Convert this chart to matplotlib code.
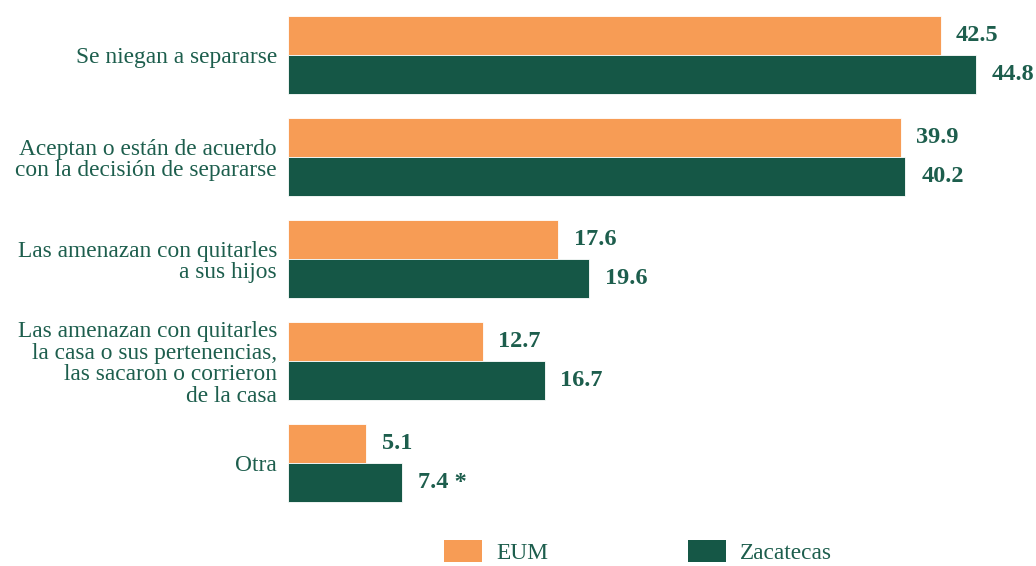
import matplotlib.pyplot as plt
import numpy as np
from matplotlib.patches import Patch

plt.rcParams['font.family'] = ['Liberation Serif', 'DejaVu Serif']

categories = [
    'Se niegan a separarse',
    'Aceptan o están de acuerdo\ncon la decisión de separarse',
    'Las amenazan con quitarles\na sus hijos',
    'Las amenazan con quitarles\nla casa o sus pertenencias,\nlas sacaron o corrieron\nde la casa',
    'Otra',
]
eum = [42.5, 39.9, 17.6, 12.7, 5.1]
zacatecas = [44.8, 40.2, 19.6, 16.7, 7.4]
zac_labels = ['44.8', '40.2', '19.6', '16.7', '7.4 *']
series_names = ['EUM', 'Zacatecas']

orange = '#F79C55'
green = '#155746'
text_color = '#1D5E4D'

fig = plt.figure(figsize=(10.36, 5.66), dpi=100)
ax = fig.add_axes([288 / 1036, 1 - 510 / 566, 1 - 288 / 1036, 510 / 566])

y = np.arange(len(categories))
h = 0.38

ax.barh(y - h / 2, eum, height=h, color=orange, edgecolor='white', linewidth=0.6)
ax.barh(y + h / 2, zacatecas, height=h, color=green, edgecolor='white', linewidth=0.6)

for yi, v in zip(y, eum):
    ax.annotate(f'{v:.1f}', (v, yi - h / 2), xytext=(11, 0), textcoords='offset points',
                ha='left', va='center', fontsize=17.5, fontweight='bold', color=text_color)
for yi, v, lab in zip(y, zacatecas, zac_labels):
    ax.annotate(lab, (v, yi + h / 2), xytext=(11.5, 0), textcoords='offset points',
                ha='left', va='center', fontsize=17.5, fontweight='bold', color=text_color)

ax.set_xlim(0, (1036 - 288) / 15.36)
ax.set_ylim((510 - 55) / 102, -55 / 102)
ax.set_yticks(y)
ax.set_yticklabels(categories, fontsize=16.8, color=text_color, ha='right',
                   linespacing=1.05)
ax.tick_params(axis='y', length=0, pad=8)
ax.set_xticks([])
for s in ax.spines.values():
    s.set_visible(False)

handles = [Patch(facecolor=orange, edgecolor='none'), Patch(facecolor=green, edgecolor='none')]
fig.legend(handles, series_names, loc='center', bbox_to_anchor=(638 / 1036, 1 - 552 / 566),
           ncol=2, frameon=False, fontsize=16.8, handlelength=1.63, handleheight=1.1,
           handletextpad=0.6, columnspacing=6.0, labelcolor=text_color)

fig.savefig('out.png', dpi=100)
